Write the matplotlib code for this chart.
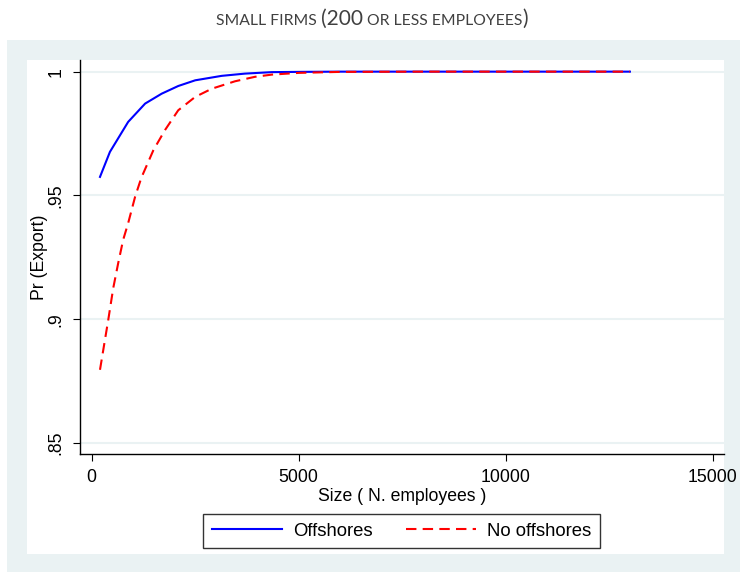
import matplotlib
matplotlib.use("Agg")
import matplotlib.pyplot as plt
from matplotlib.patches import Rectangle
from matplotlib.offsetbox import TextArea, HPacker, AnchoredOffsetbox

# values
size_off = [200, 440, 880, 1290, 1690, 2090, 2500, 3140, 3700, 4350, 5000, 6000, 8000, 10000, 13000]
pr_off = [0.9575, 0.9676, 0.9797, 0.9871, 0.9911, 0.9942, 0.9965, 0.9983, 0.9992, 0.9998,
          0.9999, 1.0, 1.0, 1.0, 1.0]
size_nooff = [200, 280, 400, 520, 640, 760, 880, 1050, 1200, 1490, 1770, 2090, 2500, 2900,
              3460, 3940, 4350, 5000, 6000, 8000, 10000, 13000]
pr_nooff = [0.8796, 0.8877, 0.8998, 0.9126, 0.9227, 0.9321, 0.9388, 0.9496, 0.9572, 0.9683,
            0.9764, 0.9844, 0.9898, 0.9931, 0.9961, 0.9979, 0.9988, 0.9995, 0.9999, 1.0, 1.0, 1.0]
yticks = [0.85, 0.9, 0.95, 1.0]
ylabels = [".85", ".9", ".95", "1"]
xticks = [0, 5000, 10000, 15000]

W, H = 740, 572
plt.rcParams["font.family"] = ["Liberation Sans", "DejaVu Sans"]
fig = plt.figure(figsize=(W / 100, H / 100), dpi=100, facecolor="white")

def px_rect(x0, y0, x1, y1, color):
    fig.patches.append(Rectangle((x0 / W, 1 - y1 / H), (x1 - x0) / W, (y1 - y0) / H,
                                 transform=fig.transFigure, facecolor=color,
                                 edgecolor="none", zorder=-10))

bg = "#eaf2f3"
px_rect(7, 40, 740, 572, bg)
px_rect(27, 60, 724, 554, "white")

ax = fig.add_axes([80 / W, 1 - 454 / H, (724 - 80) / W, (454 - 60) / H])
ax.set_facecolor("white")
ax.patch.set_alpha(0)

ax.plot(size_off, pr_off, color="#0000ff", lw=1.5, label="Offshores")
ax.plot(size_nooff, pr_nooff, color="#ff0000", lw=1.5, dashes=(5, 3), label="No offshores")

ax.set_xlim(-283, 15273)
ax.set_ylim(0.8456, 1.0047)
ax.set_yticks(yticks)
ax.set_yticklabels(ylabels, rotation=90, va="center")
ax.set_xticks(xticks)
ax.grid(axis="y", color=bg, lw=1.5)
ax.set_axisbelow(True)
for s in ["top", "right"]:
    ax.spines[s].set_visible(False)
for s in ["left", "bottom"]:
    ax.spines[s].set_linewidth(1.0)
ax.tick_params(length=5, width=0.8, labelsize=12.7, pad=6)
ax.set_xlabel("Size ( N. employees )", fontsize=12.7, labelpad=1)
ax.set_ylabel("Pr (Export)", fontsize=12.7, labelpad=0)

leg = fig.legend(loc="center", bbox_to_anchor=(401.5 / W, 1 - 531 / H), ncol=2,
                 fontsize=13.3, frameon=True, fancybox=False, edgecolor="black",
                 handlelength=3.8, handletextpad=0.6, columnspacing=1.8, borderpad=0.45)
leg.get_frame().set_linewidth(1.0)

# small-caps style title
tcol = "#404040"
small = dict(fontsize=11.3, color=tcol, family=["Lato", "DejaVu Sans"])
big = dict(fontsize=15, color=tcol, family=["Lato", "DejaVu Sans"])
parts = [TextArea("SMALL FIRMS ", textprops=small),
         TextArea("(200", textprops=big),
         TextArea(" OR LESS EMPLOYEES", textprops=small),
         TextArea(")", textprops=big)]
box = HPacker(children=parts, align="baseline", pad=0, sep=0)
title = AnchoredOffsetbox(loc="center", child=box, frameon=False,
                          bbox_to_anchor=(372 / W, 1 - 19 / H),
                          bbox_transform=fig.transFigure, borderpad=0)
fig.add_artist(title)

fig.savefig("out.png", dpi=100, facecolor="white")
